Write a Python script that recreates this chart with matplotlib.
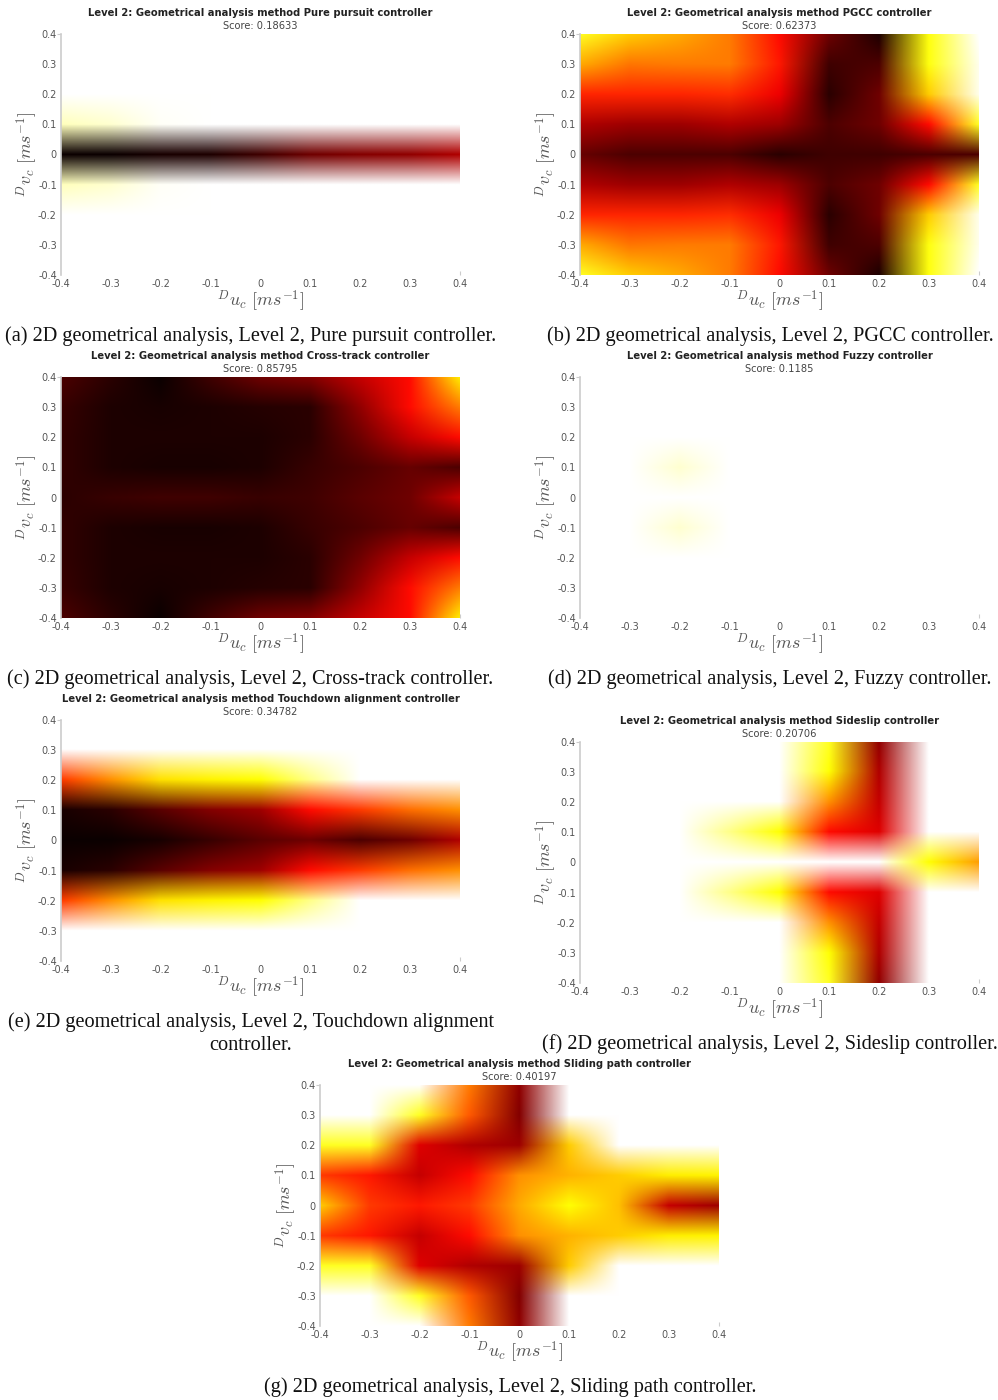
import matplotlib
matplotlib.use('Agg')
import matplotlib.pyplot as plt

plt.rcParams['mathtext.fontset'] = 'cm'

# Grid nodes go from 0.4 (top row) down to -0.4, columns from -0.4 to 0.4
tick_values = [-0.4, -0.3, -0.2, -0.1, 0, 0.1, 0.2, 0.3, 0.4]
tick_labels = ['-0.4', '-0.3', '-0.2', '-0.1', '0', '0.1', '0.2', '0.3', '0.4']

pure_pursuit = [
    [0, 0, 0, 0, 0, 0, 0, 0, 0],
    [0, 0, 0, 0, 0, 0, 0, 0, 0],
    [0, 0, 0, 0, 0, 0, 0, 0, 0],
    [0.07, 0.05, 0.01, 0, 0, 0, 0, 0, 0],
    [1.0, 1.0, 0.98, 0.97, 0.92, 0.85, 0.82, 0.8, 0.75],
    [0.07, 0.05, 0.01, 0, 0, 0, 0, 0, 0],
    [0, 0, 0, 0, 0, 0, 0, 0, 0],
    [0, 0, 0, 0, 0, 0, 0, 0, 0],
    [0, 0, 0, 0, 0, 0, 0, 0, 0],
]
pgcc = [
    [0.22, 0.33, 0.38, 0.45, 0.62, 0.85, 0.97, 0.24, 0],
    [0.38, 0.46, 0.45, 0.45, 0.6, 0.92, 0.9, 0.24, 0.02],
    [0.58, 0.58, 0.58, 0.57, 0.66, 0.95, 0.85, 0.33, 0.02],
    [0.75, 0.78, 0.78, 0.75, 0.78, 0.9, 0.85, 0.62, 0.22],
    [0.86, 0.9, 0.9, 0.9, 0.95, 0.92, 0.92, 0.9, 0.9],
    [0.75, 0.78, 0.78, 0.75, 0.78, 0.9, 0.85, 0.62, 0.22],
    [0.58, 0.58, 0.58, 0.57, 0.66, 0.95, 0.85, 0.33, 0.02],
    [0.38, 0.46, 0.45, 0.45, 0.6, 0.92, 0.9, 0.24, 0.02],
    [0.22, 0.33, 0.38, 0.45, 0.62, 0.85, 0.97, 0.24, 0],
]
cross_track = [
    [0.9, 0.95, 1.0, 0.92, 0.85, 0.82, 0.72, 0.62, 0.28],
    [0.93, 0.97, 0.98, 0.97, 0.96, 0.95, 0.8, 0.62, 0.45],
    [0.94, 0.97, 0.97, 0.97, 0.97, 0.95, 0.85, 0.72, 0.62],
    [0.94, 0.97, 0.98, 0.98, 0.97, 0.93, 0.9, 0.86, 0.9],
    [0.95, 0.93, 0.92, 0.92, 0.93, 0.92, 0.88, 0.85, 0.72],
    [0.94, 0.97, 0.98, 0.98, 0.97, 0.93, 0.9, 0.86, 0.9],
    [0.94, 0.97, 0.97, 0.97, 0.97, 0.95, 0.85, 0.72, 0.62],
    [0.93, 0.97, 0.98, 0.97, 0.96, 0.95, 0.8, 0.62, 0.45],
    [0.9, 0.95, 1.0, 0.92, 0.85, 0.82, 0.72, 0.62, 0.28],
]
fuzzy = [
    [0, 0, 0, 0, 0, 0, 0, 0, 0],
    [0, 0, 0, 0, 0, 0, 0, 0, 0],
    [0, 0, 0, 0, 0, 0, 0, 0, 0],
    [0, 0, 0.05, 0, 0, 0, 0, 0, 0],
    [0, 0, 0, 0, 0, 0, 0, 0, 0],
    [0, 0, 0.05, 0, 0, 0, 0, 0, 0],
    [0, 0, 0, 0, 0, 0, 0, 0, 0],
    [0, 0, 0, 0, 0, 0, 0, 0, 0],
    [0, 0, 0, 0, 0, 0, 0, 0, 0],
]
touchdown = [
    [0, 0, 0, 0, 0, 0, 0, 0, 0],
    [0, 0, 0, 0, 0, 0, 0, 0, 0],
    [0.55, 0.42, 0.3, 0.27, 0.25, 0.12, 0, 0, 0],
    [0.98, 0.95, 0.88, 0.82, 0.78, 0.62, 0.55, 0.47, 0.42],
    [1.0, 1.0, 0.98, 0.93, 0.88, 0.85, 0.9, 0.85, 0.75],
    [0.98, 0.95, 0.88, 0.82, 0.78, 0.62, 0.55, 0.47, 0.42],
    [0.55, 0.42, 0.3, 0.27, 0.25, 0.12, 0, 0, 0],
    [0, 0, 0, 0, 0, 0, 0, 0, 0],
    [0, 0, 0, 0, 0, 0, 0, 0, 0],
]
sideslip = [
    [0, 0, 0, 0, 0, 0.22, 0.8, 0, 0],
    [0, 0, 0, 0, 0, 0.25, 0.75, 0, 0],
    [0, 0, 0, 0, 0, 0.42, 0.72, 0, 0],
    [0, 0, 0, 0.12, 0.25, 0.62, 0.68, 0, 0],
    [0, 0, 0, 0, 0, 0, 0, 0.25, 0.4],
    [0, 0, 0, 0.12, 0.25, 0.62, 0.68, 0, 0],
    [0, 0, 0, 0, 0, 0.42, 0.72, 0, 0],
    [0, 0, 0, 0, 0, 0.25, 0.75, 0, 0],
    [0, 0, 0, 0, 0, 0.22, 0.8, 0, 0],
]
sliding_path = [
    [0, 0, 0, 0.45, 0.8, 0, 0, 0, 0],
    [0, 0, 0.22, 0.5, 0.82, 0, 0, 0, 0],
    [0.22, 0.22, 0.68, 0.75, 0.78, 0.33, 0, 0, 0],
    [0.55, 0.6, 0.72, 0.62, 0.42, 0.37, 0.33, 0.28, 0.27],
    [0.33, 0.55, 0.6, 0.55, 0.38, 0.25, 0.35, 0.72, 0.78],
    [0.55, 0.6, 0.72, 0.62, 0.42, 0.37, 0.33, 0.28, 0.27],
    [0.22, 0.22, 0.68, 0.75, 0.78, 0.33, 0, 0, 0],
    [0, 0, 0.22, 0.5, 0.82, 0, 0, 0, 0],
    [0, 0, 0, 0.45, 0.8, 0, 0, 0, 0],
]

grids = [pure_pursuit, pgcc, cross_track, fuzzy, touchdown, sideslip, sliding_path]
controllers = ['Pure pursuit', 'PGCC', 'Cross-track', 'Fuzzy', 'Touchdown alignment', 'Sideslip', 'Sliding path']
scores = ['0.18633', '0.62373', '0.85795', '0.1185', '0.34782', '0.20706', '0.40197']
captions = [
    '(a) 2D geometrical analysis, Level 2, Pure pursuit controller.',
    '(b) 2D geometrical analysis, Level 2, PGCC controller.',
    '(c) 2D geometrical analysis, Level 2, Cross-track controller.',
    '(d) 2D geometrical analysis, Level 2, Fuzzy controller.',
    '(e) 2D geometrical analysis, Level 2, Touchdown alignment\ncontroller.',
    '(f) 2D geometrical analysis, Level 2, Sideslip controller.',
    '(g) 2D geometrical analysis, Level 2, Sliding path controller.',
]
# Left and top pixel of each heatmap, then caption centre x and baseline y
axes_left = [61, 580, 61, 580, 61, 580, 320]
axes_top = [34, 34, 377, 377, 720, 742, 1085]
caption_x = [251, 770, 250, 770, 251, 770, 510]
caption_y = [341, 341, 684, 684, 1050, 1049, 1392]

WIDTH, HEIGHT = 998, 1400
AX_W, AX_H = 399, 241
GREY = '#555555'

fig = plt.figure(figsize=(WIDTH / 100, HEIGHT / 100), dpi=100)

for i, grid in enumerate(grids):
    left, top = axes_left[i], axes_top[i]
    ax = fig.add_axes([left / WIDTH, 1 - (top + AX_H) / HEIGHT, AX_W / WIDTH, AX_H / HEIGHT])
    # Colours blend between nodes, which gives the pink and olive fringes
    ax.imshow(grid, cmap='hot_r', vmin=0, vmax=1, extent=(-0.45, 0.45, -0.45, 0.45),
              aspect='auto', interpolation='bilinear', interpolation_stage='rgba')
    ax.set_xlim(-0.4, 0.4)
    ax.set_ylim(-0.4, 0.4)
    ax.set_xticks(tick_values, tick_labels)
    ax.set_yticks(tick_values, tick_labels)
    ax.tick_params(length=0, labelsize=7, labelcolor=GREY, pad=3)
    for side in ['top', 'right', 'bottom']:
        ax.spines[side].set_visible(False)
    ax.spines['left'].set_color('#cccccc')
    ax.spines['left'].set_linewidth(1.2)

    # Only the last tick on each axis shows a mark
    ax.xaxis.get_major_ticks()[-1].tick1line.set(markersize=3, markeredgecolor='#cccccc', marker=2)
    ax.yaxis.get_major_ticks()[-1].tick1line.set(markersize=3, markeredgecolor='#cccccc', marker=0)

    cx = left + AX_W / 2
    fig.text(cx / WIDTH, 1 - (top - 21) / HEIGHT,
             'Level 2: Geometrical analysis method ' + controllers[i] + ' controller',
             ha='center', va='center', fontsize=7.17, fontweight='bold', color='#222222')
    fig.text(cx / WIDTH, 1 - (top - 8) / HEIGHT, 'Score: ' + scores[i],
             ha='center', va='center', fontsize=7.15, color='#444444')
    fig.text(cx / WIDTH, 1 - (top + AX_H + 26) / HEIGHT, r'${}^{D}u_c\ [ms^{-1}]$',
             ha='center', va='center', fontsize=13, color=GREY)
    fig.text((left - 34) / WIDTH, 1 - (top + AX_H / 2) / HEIGHT, r'${}^{D}v_c\ [ms^{-1}]$',
             ha='center', va='center', rotation=90, fontsize=13, color=GREY)
    fig.text(caption_x[i] / WIDTH, 1 - caption_y[i] / HEIGHT, captions[i],
             ha='center', va='baseline', multialignment='center', fontsize=14.55,
             family='Liberation Serif', color='#111111', linespacing=1.26)

fig.savefig('out.png', dpi=100)
